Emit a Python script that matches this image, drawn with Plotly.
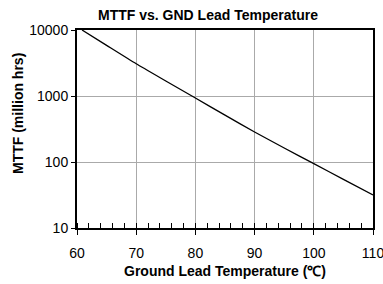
import plotly.graph_objects as go

temps = [60.85, 65, 70, 75, 80, 85, 90, 95, 100, 105, 110]
mttf = [10000, 5850, 3080, 1690, 933, 513, 285, 163, 94.4, 54.5, 31.6]
x_ticks = [60, 70, 80, 90, 100, 110]
x_minor = [v for v in range(60, 111, 2)]
y_ticks = [10, 100, 1000, 10000]

fig = go.Figure()
fig.add_trace(go.Scatter(x=temps, y=mttf, mode="lines",
                         line=dict(color="black", width=1.3, shape="spline", smoothing=0.6),
                         showlegend=False, hoverinfo="skip"))

font = "Liberation Sans, Arial, sans-serif"
W, H = 383, 284
fig.update_layout(
    width=W, height=H,
    margin=dict(l=77, r=10, t=30, b=56, autoexpand=False),
    paper_bgcolor="white", plot_bgcolor="white",
    title=dict(text="<b>MTTF vs. GND Lead Temperature</b>", x=208/W, xanchor="center",
               y=1 - 15/H, yanchor="middle", font=dict(family=font, size=14, color="black")),
    font=dict(family=font, size=14, color="black"),
    annotations=[
        dict(text="<b>Ground Lead Temperature (℃)</b>", xref="paper", yref="paper",
             x=0.5, y=-(271 - 228) / (228 - 30), xanchor="center", yanchor="middle",
             showarrow=False, font=dict(family=font, size=14, color="black")),
        dict(text="<b>MTTF (million hrs)</b>", xref="paper", yref="paper",
             x=-(77 - 18) / (373 - 77), y=(228 - 114) / (228 - 30), xanchor="center", yanchor="middle",
             textangle=-90, showarrow=False, font=dict(family=font, size=14, color="black")),
    ],
)
fig.update_xaxes(
    range=[60, 110], tickvals=x_ticks, ticktext=[str(v) for v in x_ticks],
    showgrid=True, gridcolor="#aaaaaa", gridwidth=1,
    showline=True, linecolor="black", linewidth=2, mirror=True,
    ticks="outside", ticklen=5, tickcolor="black", tickwidth=1,
    minor=dict(tickvals=x_minor, ticks="inside", ticklen=5, tickcolor="black", tickwidth=1, showgrid=False),
    ticklabelstandoff=6, ticklabeloverflow="allow",
    tickfont=dict(family=font, size=14), zeroline=False, automargin=False,
)
fig.update_yaxes(
    type="log", range=[1, 4], tickvals=y_ticks, ticktext=[str(v) for v in y_ticks],
    showgrid=True, gridcolor="#aaaaaa", gridwidth=1,
    showline=True, linecolor="black", linewidth=2, mirror=True,
    ticks="outside", ticklen=4, tickcolor="black", tickwidth=1,
    tickfont=dict(family=font, size=14), zeroline=False, automargin=False,
)
fig.write_html("out.html", config={"displayModeBar": False, "staticPlot": True},
               post_script="document.body.style.margin='0';document.body.style.padding='0';document.body.style.overflow='hidden';")
